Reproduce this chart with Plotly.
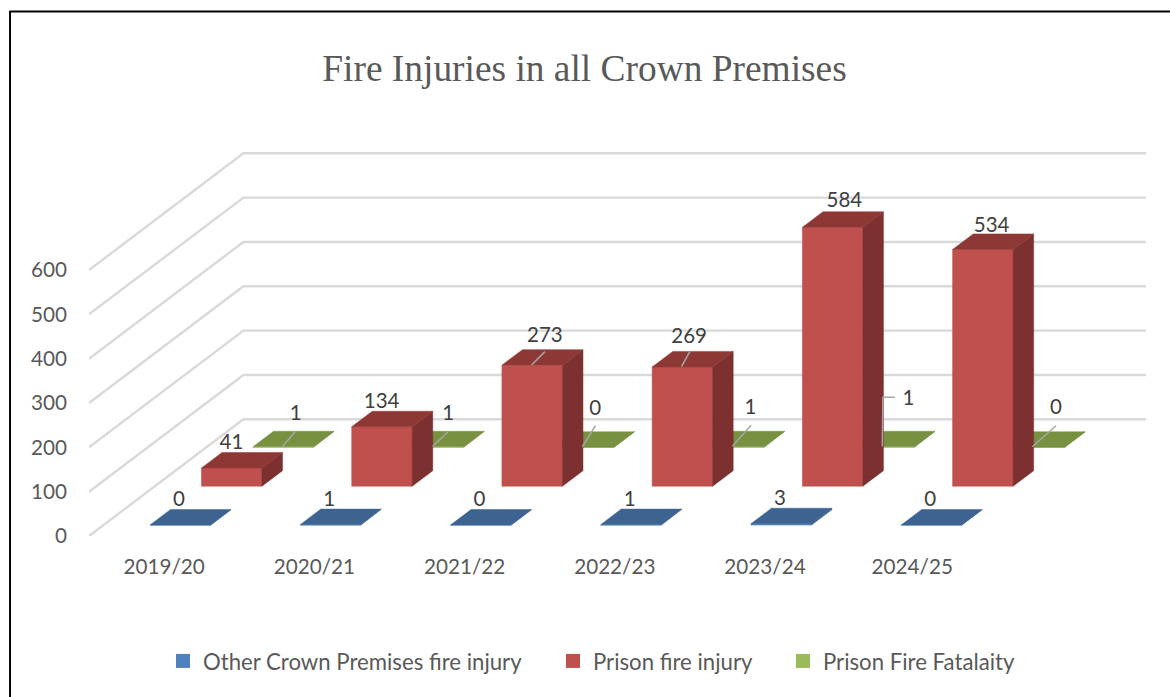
import plotly.graph_objects as go

# ---- data ----
categories = ["2019/20", "2020/21", "2021/22", "2022/23", "2023/24", "2024/25"]
other_crown = [0, 1, 0, 1, 3, 0]
prison_injury = [41, 134, 273, 269, 584, 534]
prison_fatality = [1, 1, 0, 1, 1, 0]
series_names = ["Other Crown Premises fire injury", "Prison fire injury", "Prison Fire Fatalaity"]
y_ticks = [0, 100, 200, 300, 400, 500, 600]

# ---- pseudo-3D (oblique) geometry ----
W, H = 1170, 697
LEFT, RIGHT, BASE, TOP = 88.5, 1146, 536, 130
PX_PER_CAT = 150.3
PX_PER_VAL = 0.4433
to_x = lambda px: px / PX_PER_CAT
to_y = lambda px: px / PX_PER_VAL
DEPTH_X, DEPTH_Y = to_x(154.5), to_y(116.7)   # whole floor depth in axis units
ROWS = 3
ROW_GAP, BAR_DEPTH = 0.28, 0.40               # fractions of one row
BAR_OFFSET, BAR_WIDTH = 0.31, 0.4025          # fractions of one category
TEXT_DROP = 1.8                               # baseline correction of data labels, px

# label placement, pixels from the top-back-left corner of each bar
label_nudge = {
    0: [(29, -10)] * 6,
    1: [(30, -10), (30, -10), (43, -15), (37, -15.7), (42, -12), (39, -9)],
    2: [(42.7, -18), (45, -18), (41.8, -24), (46.8, -24), (54.5, -33), (52, -25)],
}
leaders = {
    1: {2: [(29.7, 15.3), (43, 2)], 3: [(29.4, 15.3), (37.7, 0.3)]},
    2: {0: [(29.7, 15), (42.7, 0)], 1: [(29.5, 15), (45.5, 0)], 2: [(29, 15), (42, -6)],
        3: [(28.8, 15), (47.5, -6)], 4: [(28.5, 15), (29, -34), (41, -34)], 5: [(28.2, 15), (52, -6)]},
}

colors = [
    dict(front="#4F81BD", top="#3D6491", side="#345780", legend="#4F81BD"),
    dict(front="#C0504D", top="#8E3836", side="#7C3030", legend="#C0504D"),
    dict(front="#9BBB59", top="#779140", side="#66803A", legend="#9BBB59"),
]
values = [other_crown, prison_injury, prison_fatality]

fig = go.Figure()


def poly_trace(xs, ys, color):
    fig.add_trace(go.Scatter(x=xs, y=ys, mode="lines", fill="toself", fillcolor=color,
                             line=dict(color=color, width=0.5), hoverinfo="skip", showlegend=False))


# gridlines: side wall and back wall
gx, gy = [], []
x_end = (RIGHT - LEFT) / PX_PER_CAT
for v in y_ticks:
    gx += [0, DEPTH_X, x_end, None]
    gy += [v, v + DEPTH_Y, v + DEPTH_Y, None]
fig.add_trace(go.Scatter(x=gx, y=gy, mode="lines", line=dict(color="#D9D9D9", width=2.4),
                         hoverinfo="skip", showlegend=False))

lead_x, lead_y, text_x, text_y, text_s = [], [], [], [], []

# back row first
for r in reversed(range(ROWS)):
    d0 = (r + ROW_GAP) / ROWS
    d1 = d0 + BAR_DEPTH / ROWS
    fx, fy, tx, ty, sx, sy = [], [], [], [], [], []
    for i, v in enumerate(values[r]):
        x0 = i + BAR_OFFSET + d0 * DEPTH_X
        x1 = x0 + BAR_WIDTH
        y0 = d0 * DEPTH_Y
        ddx = (d1 - d0) * DEPTH_X
        ddy = (d1 - d0) * DEPTH_Y
        fx += [x0, x1, x1, x0, x0, None]
        fy += [y0, y0, y0 + v, y0 + v, y0, None]
        tx += [x0, x1, x1 + ddx, x0 + ddx, x0, None]
        ty += [y0 + v, y0 + v, y0 + v + ddy, y0 + v + ddy, y0 + v, None]
        sx += [x1, x1 + ddx, x1 + ddx, x1, x1, None]
        sy += [y0, y0 + ddy, y0 + v + ddy, y0 + v, y0, None]
        ax, ay = x0, y0 + v + ddy
        nx, ny = label_nudge[r][i]
        text_x.append(ax + to_x(nx))
        text_y.append(ay - to_y(ny + TEXT_DROP))
        text_s.append(str(v))
        for px_, py_ in leaders.get(r, {}).get(i, []):
            lead_x.append(ax + to_x(px_))
            lead_y.append(ay - to_y(py_))
        lead_x.append(None)
        lead_y.append(None)
    poly_trace(fx, fy, colors[r]["front"])
    poly_trace(sx, sy, colors[r]["side"])
    poly_trace(tx, ty, colors[r]["top"])

fig.add_trace(go.Scatter(x=lead_x, y=lead_y, mode="lines", line=dict(color="#A6A6A6", width=1.5),
                         hoverinfo="skip", showlegend=False))
fig.add_trace(go.Scatter(x=text_x, y=text_y, mode="text", text=text_s, textposition="middle center",
                         textfont=dict(family="Lato", size=20.5, color="#404040"),
                         hoverinfo="skip", showlegend=False, cliponaxis=False))

# legend entries, one legend each so they sit at their own places
legend_left = [163, 553, 783]
legend_ids = ["legend", "legend2", "legend3"]
for name, c, lid in zip(series_names, colors, legend_ids):
    fig.add_trace(go.Scatter(x=[None], y=[None], mode="markers", name=name, legend=lid,
                             marker=dict(symbol="square", size=14, color=c["legend"]), showlegend=True))

leg_common = dict(orientation="h", xref="container", yref="container", y=1 - 661 / H,
                  xanchor="left", yanchor="middle", bgcolor="rgba(0,0,0,0)", itemclick=False,
                  itemdoubleclick=False, font=dict(family="Lato", size=22.2, color="#595959"))


def frac_x(px):
    return (px - LEFT) / (RIGHT - LEFT)


def frac_y(px):
    return (BASE - px) / (BASE - TOP)


fig.update_layout(
    width=W, height=H, autosize=False,
    margin=dict(l=LEFT, r=W - RIGHT, t=TOP, b=H - BASE, autoexpand=False),
    paper_bgcolor="white", plot_bgcolor="rgba(0,0,0,0)",
    title=dict(text="Fire Injuries in all Crown Premises", xref="container", yref="container",
               x=584.5 / W, y=1 - 68 / H, xanchor="center", yanchor="middle",
               font=dict(family="Liberation Serif", size=37.4, color="#595959")),
    xaxis=dict(range=[0, x_end], showgrid=False, zeroline=False, showline=False, ticks="",
               tickmode="array", tickvals=[i + 0.50 for i in range(5)] + [5.48], ticktext=categories,
               ticklabelstandoff=16, tickfont=dict(family="Lato", size=20.7, color="#595959")),
    yaxis=dict(range=[0, (BASE - TOP) / PX_PER_VAL], showgrid=False, zeroline=False, showline=False, ticks="",
               tickmode="array", tickvals=y_ticks, ticklabelstandoff=21,
               tickfont=dict(family="Lato", size=20.7, color="#595959")),
    legend=dict(x=legend_left[0] / W, **leg_common),
    legend2=dict(x=legend_left[1] / W, **leg_common),
    legend3=dict(x=legend_left[2] / W, **leg_common),
    shapes=[
        dict(type="line", xref="paper", yref="paper", x0=frac_x(9.5), x1=frac_x(9.5), y0=frac_y(11), y1=frac_y(697),
             line=dict(color="black", width=2)),
        dict(type="line", xref="paper", yref="paper", x0=frac_x(9), x1=frac_x(1170), y0=frac_y(11.5), y1=frac_y(11.5),
             line=dict(color="black", width=2)),
    ],
)

fig.write_html("out.html", config={"displayModeBar": False},
               post_script="document.body.style.margin='0';document.body.style.overflow='hidden';")
